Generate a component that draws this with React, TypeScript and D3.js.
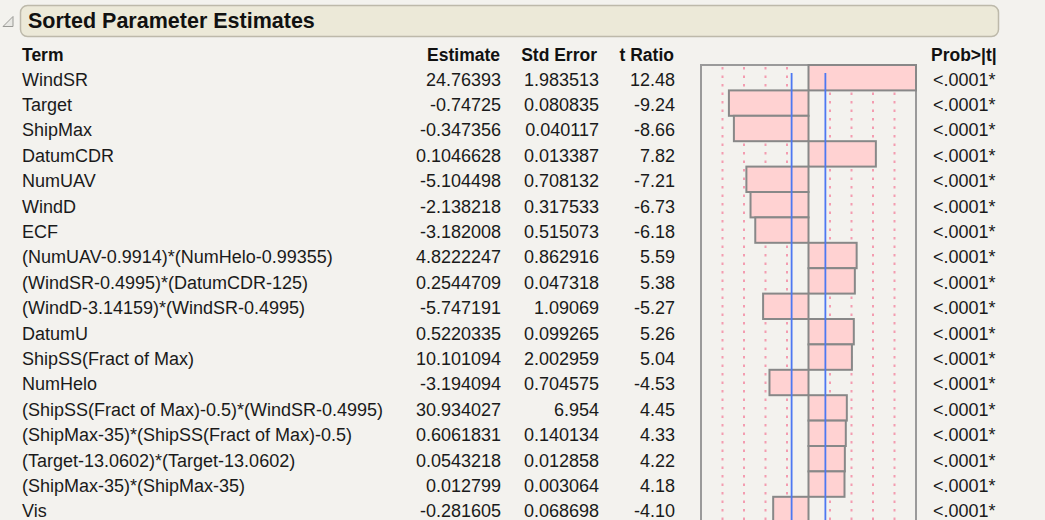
import React from "react";
import * as d3 from "d3";

const terms = [
  "WindSR",
  "Target",
  "ShipMax",
  "DatumCDR",
  "NumUAV",
  "WindD",
  "ECF",
  "(NumUAV-0.9914)*(NumHelo-0.99355)",
  "(WindSR-0.4995)*(DatumCDR-125)",
  "(WindD-3.14159)*(WindSR-0.4995)",
  "DatumU",
  "ShipSS(Fract of Max)",
  "NumHelo",
  "(ShipSS(Fract of Max)-0.5)*(WindSR-0.4995)",
  "(ShipMax-35)*(ShipSS(Fract of Max)-0.5)",
  "(Target-13.0602)*(Target-13.0602)",
  "(ShipMax-35)*(ShipMax-35)",
  "Vis",
];

const estimates = [
  "24.76393", "-0.74725", "-0.347356", "0.1046628", "-5.104498", "-2.138218",
  "-3.182008", "4.8222247", "0.2544709", "-5.747191", "0.5220335", "10.101094",
  "-3.194094", "30.934027", "0.6061831", "0.0543218", "0.012799", "-0.281605",
];

const stdErrors = [
  "1.983513", "0.080835", "0.040117", "0.013387", "0.708132", "0.317533",
  "0.515073", "0.862916", "0.047318", "1.09069", "0.099265", "2.002959",
  "0.704575", "6.954", "0.140134", "0.012858", "0.003064", "0.068698",
];

const tRatios = [
  12.48, -9.24, -8.66, 7.82, -7.21, -6.73, -6.18, 5.59, 5.38, -5.27, 5.26, 5.04,
  -4.53, 4.45, 4.33, 4.22, 4.18, -4.1,
];

const probs = terms.map(() => "<.0001*");

const headers = ["Term", "Estimate", "Std Error", "t Ratio", "Prob>|t|"];
const tCrit = 1.96;
const gridFractions = [-0.8, -0.6, -0.4, -0.2, 0.2, 0.4, 0.6, 0.8];

const font = "'Liberation Sans', Arial, sans-serif";

export default function App() {
  const width = 1045;
  const height = 520;
  const rowH = 25.4;
  const top = 65;

  const maxT = d3.max(tRatios, (d) => Math.abs(d)) as number;
  const x = d3.scaleLinear().domain([-maxT, maxT]).range([701, 916]);
  const y = d3
    .scaleBand<string>()
    .domain(terms)
    .range([top, top + terms.length * rowH])
    .padding(0);

  const baseline = (t: string) => (y(t) as number) + 20.5;

  return (
    <svg
      width={width}
      height={height}
      style={{ position: "absolute", left: 0, top: 0, fontFamily: font }}
    >
      <rect width={width} height={height} fill="#f3f2ee" />

      {/* outline toggle + title bar */}
      <path d="M3,26.5 L13,26.5 L13,16.5 Z" fill="#e8e8e4" stroke="#9a9a96" strokeWidth={1} />
      <rect x={20.5} y={5.5} width={978} height={31} rx={7} fill="#ece9d8" stroke="#bdb9aa" strokeWidth={1.5} />
      <text x={28} y={28} fontSize={21.5} fontWeight="bold" fill="#111">
        Sorted Parameter Estimates
      </text>

      {/* column headers */}
      <g fontSize={17.5} fontWeight="bold" fill="#111">
        <text x={22} y={61}>{headers[0]}</text>
        <text x={500} y={61} textAnchor="end">{headers[1]}</text>
        <text x={597} y={61} textAnchor="end">{headers[2]}</text>
        <text x={674} y={61} textAnchor="end">{headers[3]}</text>
        <text x={931} y={61}>{headers[4]}</text>
      </g>

      {/* table body */}
      <g fontSize={18} fill="#1a1a1a">
        {terms.map((t, i) => (
          <g key={t}>
            <text x={22} y={baseline(t)}>{t}</text>
            <text x={501} y={baseline(t)} textAnchor="end">{estimates[i]}</text>
            <text x={599} y={baseline(t)} textAnchor="end">{stdErrors[i]}</text>
            <text x={675} y={baseline(t)} textAnchor="end">{tRatios[i].toFixed(2)}</text>
            <text x={933} y={baseline(t)}>{probs[i]}</text>
          </g>
        ))}
      </g>

      {/* bar chart frame */}
      <rect
        x={x(-maxT)}
        y={top}
        width={x(maxT) - x(-maxT)}
        height={height}
        fill="none"
        stroke="#9a9a9a"
        strokeWidth={2}
      />

      {/* dotted reference lines */}
      {gridFractions.map((f) => (
        <line
          key={f}
          x1={x(f * maxT)}
          x2={x(f * maxT)}
          y1={top + 2}
          y2={height}
          stroke="#f39cb0"
          strokeWidth={2}
          strokeDasharray="2.5,6"
        />
      ))}

      {/* bars */}
      {terms.map((t, i) => (
        <rect
          key={t}
          x={Math.min(x(0), x(tRatios[i]))}
          y={y(t)}
          width={Math.abs(x(tRatios[i]) - x(0))}
          height={y.bandwidth()}
          fill="#ffd2d2"
          stroke="#888"
          strokeWidth={2}
        />
      ))}

      {/* significance lines */}
      {[-tCrit, tCrit].map((v) => (
        <line
          key={v}
          x1={x(v)}
          x2={x(v)}
          y1={top + 8}
          y2={height}
          stroke="#4d78f2"
          strokeWidth={1.8}
        />
      ))}
    </svg>
  );
}
